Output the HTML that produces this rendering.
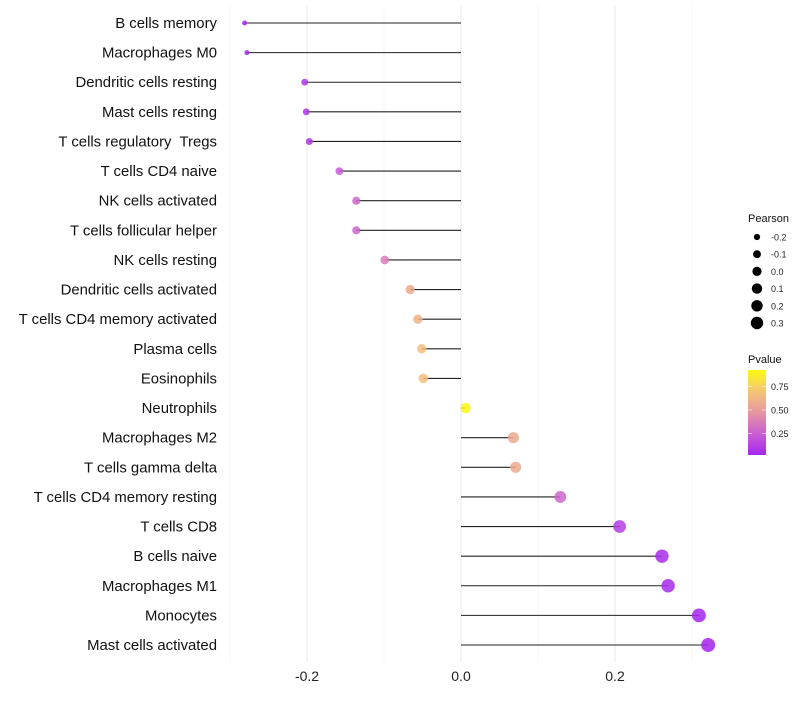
<!DOCTYPE html>
<html><head><meta charset="utf-8"><style>
body{margin:0;background:#fff;font-family:"Liberation Sans",sans-serif}
</style></head><body>
<svg id="chart" width="800" height="700" xmlns="http://www.w3.org/2000/svg">
<g id="grid"></g>
<g id="marks"></g>
<g id="ylab"></g>
<g id="xlab"></g>
<g id="legend"></g>
</svg>
<script>
const categories=["B cells memory","Macrophages M0","Dendritic cells resting","Mast cells resting","T cells regulatory  Tregs","T cells CD4 naive","NK cells activated","T cells follicular helper","NK cells resting","Dendritic cells activated","T cells CD4 memory activated","Plasma cells","Eosinophils","Neutrophils","Macrophages M2","T cells gamma delta","T cells CD4 memory resting","T cells CD8","B cells naive","Macrophages M1","Monocytes","Mast cells activated"];
const pearson=[-0.281,-0.278,-0.203,-0.201,-0.197,-0.158,-0.136,-0.136,-0.099,-0.066,-0.056,-0.051,-0.049,0.006,0.068,0.071,0.129,0.206,0.261,0.269,0.309,0.321];
const pvalue=[0.02,0.02,0.1,0.1,0.1,0.25,0.3,0.3,0.4,0.6,0.65,0.7,0.7,0.96,0.6,0.6,0.3,0.12,0.05,0.05,0.02,0.02];
const xTicks=[-0.2,0.0,0.2];
const xTickLabels=["-0.2","0.0","0.2"];
const sizeBreaks=[-0.2,-0.1,0.0,0.1,0.2,0.3];
const sizeLabels=["-0.2","-0.1","0.0","0.1","0.2","0.3"];
const pBreaks=[0.25,0.5,0.75];
const pLabels=["0.25","0.50","0.75"];

const NS="http://www.w3.org/2000/svg";
const x=v=>461+v*770;
const y=i=>23+i*(645-23)/(categories.length-1);
const r=v=>Math.sqrt(Math.max(1,6.25+71*(v+0.281)));
function lerp(a,b,t){return a.map((c,k)=>Math.round(c+(b[k]-c)*t));}
function color(p){const s=[[160,32,240],[200,90,215],[230,150,160],[245,200,115],[255,255,0]];
 const t=Math.max(0,Math.min(1,p))*(s.length-1);const i=Math.min(s.length-2,Math.floor(t));
 const c=lerp(s[i],s[i+1],t-i);return `rgb(${c[0]},${c[1]},${c[2]})`;}
function mk(tag,attrs,parent){const e=document.createElementNS(NS,tag);for(const k in attrs)e.setAttribute(k,attrs[k]);parent.appendChild(e);return e;}
const grid=document.getElementById('grid'),marks=document.getElementById('marks'),ylab=document.getElementById('ylab'),xlab=document.getElementById('xlab'),leg=document.getElementById('legend');
[-0.3,-0.1,0.1,0.3].forEach(v=>{const l=mk('line',{x1:x(v),x2:x(v),y1:5,y2:662,stroke:'#f2f2f2','stroke-width':0.6},grid);

});
xTicks.forEach((v,i)=>{const l=mk('line',{x1:x(v),x2:x(v),y1:5,y2:662,stroke:'#ebebeb','stroke-width':1.1},grid);


const t=mk('text',{x:x(v),y:681,'text-anchor':'middle','font-size':14,fill:'#222'},xlab);t.textContent=xTickLabels[i];

});
categories.forEach((c,i)=>{
 const t=mk('text',{x:217,y:y(i)+5,'text-anchor':'end','font-size':14.9,fill:'#111',style:'white-space:pre'},ylab);t.textContent=c;
 
 
 const l=mk('line',{x1:x(0),x2:x(pearson[i]),y1:y(i),y2:y(i),stroke:'#222','stroke-width':1.1},marks);
 
 
 const d=mk('circle',{cx:x(pearson[i]),cy:y(i),r:r(pearson[i]),fill:color(pvalue[i]),'fill-opacity':0.85},marks);
 
 
});
let t=mk('text',{x:748,y:222,'font-size':11,fill:'#111'},leg);t.textContent='Pearson';


sizeBreaks.forEach((v,i)=>{const yy=237+i*17.2;
 const c=mk('circle',{cx:757,cy:yy,r:r(v)*0.9,fill:'#000'},leg);
 
 
 const tt=mk('text',{x:771,y:yy+3.5,'font-size':9,fill:'#222'},leg);tt.textContent=sizeLabels[i];
 
 });
t=mk('text',{x:748,y:363,'font-size':11,fill:'#111'},leg);t.textContent='Pvalue';


const defs=mk('defs',{},leg);const g=mk('linearGradient',{id:'pg',x1:0,y1:1,x2:0,y2:0},defs);
for(let k=0;k<=10;k++){const p=0.03+k*0.094;mk('stop',{offset:k/10,'stop-color':color(p)},g);}
const bar=mk('rect',{x:748,y:370,width:18,height:85,fill:'url(#pg)'},leg);


pBreaks.forEach((p,i)=>{const yy=457-p*94;
 mk('line',{x1:748,x2:752,y1:yy,y2:yy,stroke:'#fff','stroke-width':0.6},leg);
 mk('line',{x1:762,x2:766,y1:yy,y2:yy,stroke:'#fff','stroke-width':0.6},leg);
 const tt=mk('text',{x:771,y:yy+3.5,'font-size':9,fill:'#222'},leg);tt.textContent=pLabels[i];
 
 });
</script>
</body></html>
